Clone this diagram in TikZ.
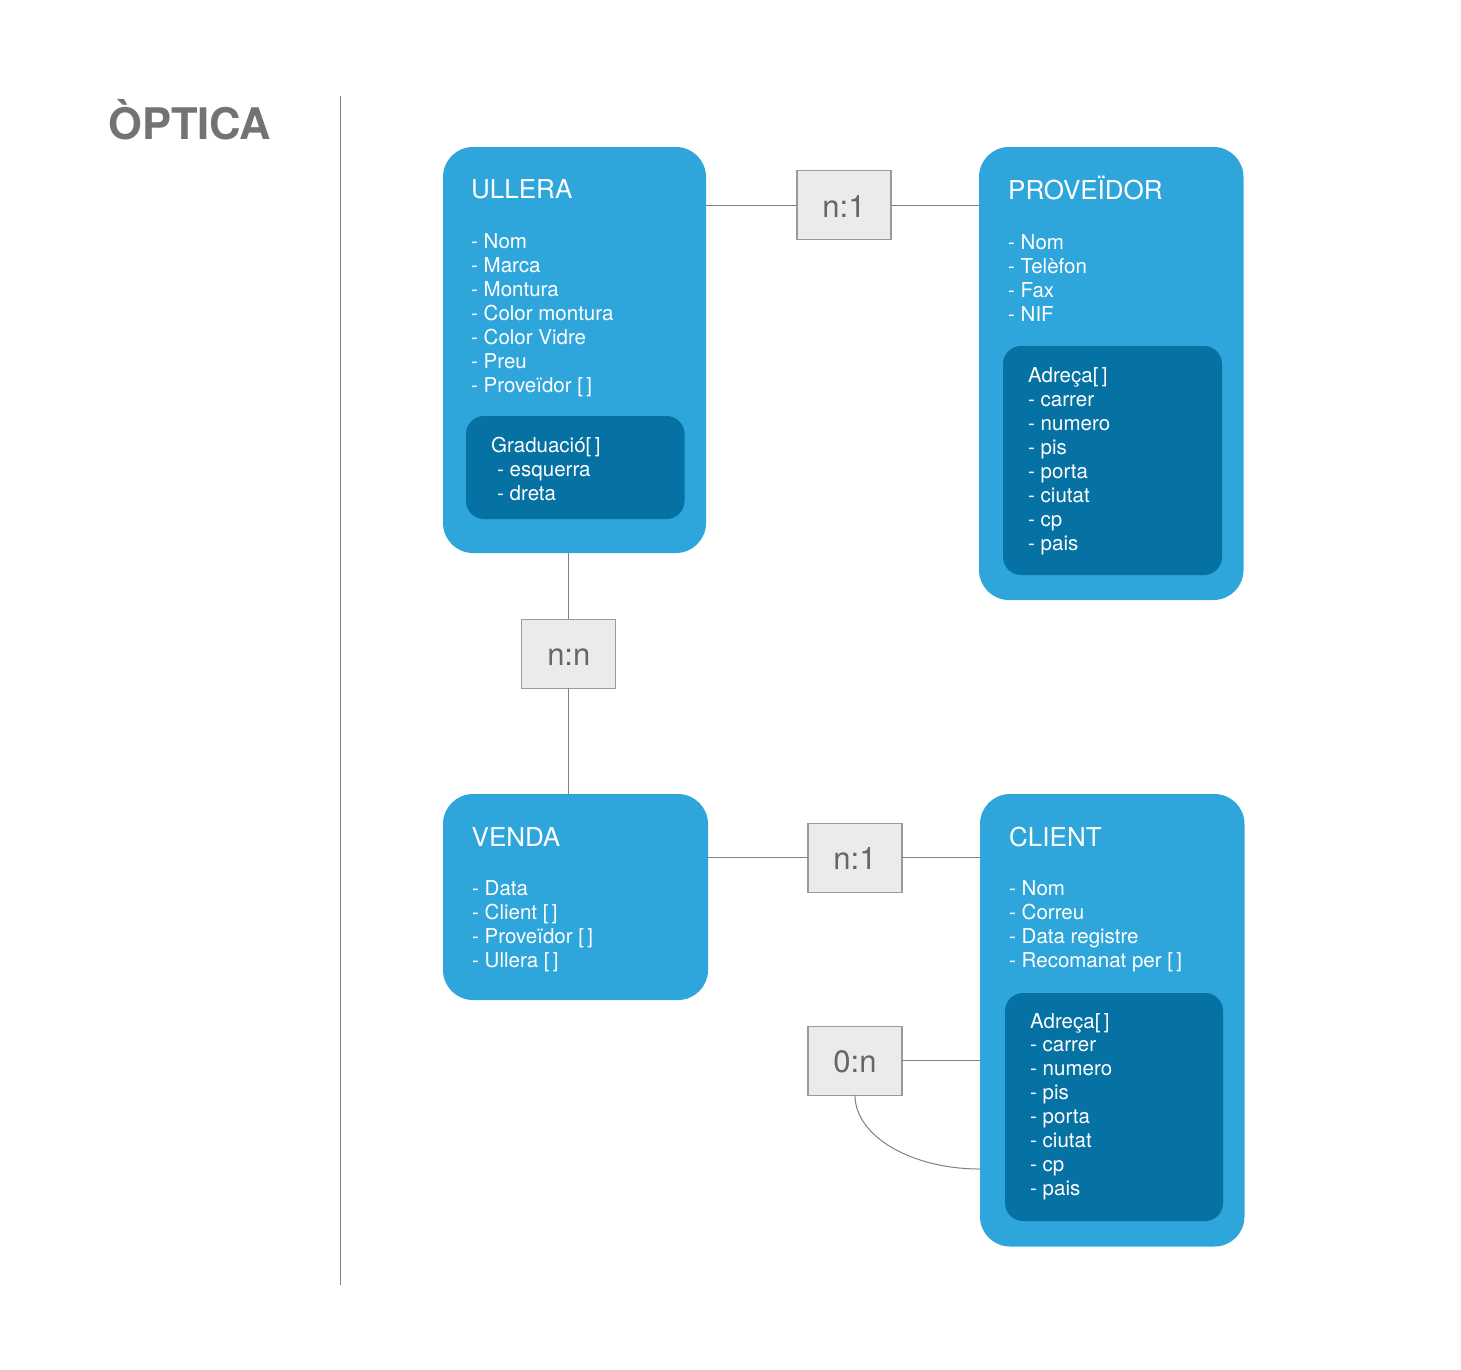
\documentclass[tikz,border=0pt]{standalone}
\usepackage{fontspec}
\setmainfont{TeX Gyre Heros}
\definecolor{outerblue}{HTML}{2EA6DB}
\definecolor{innerblue}{HTML}{0671A3}
\definecolor{relfill}{HTML}{EBEBEB}
\definecolor{relborder}{HTML}{9A9A9A}
\definecolor{reltext}{HTML}{666666}
\definecolor{linegray}{HTML}{808080}
\definecolor{titlegray}{HTML}{737373}
\begin{document}
\begin{tikzpicture}[x=1pt,y=-1pt,
  entity/.style={fill=outerblue, rounded corners=30pt, anchor=north west, inner sep=0pt, outer sep=0pt},
  subbox/.style={fill=innerblue, rounded corners=18pt, anchor=north west, inner sep=0pt, outer sep=0pt},
  rel/.style={draw=relborder, fill=relfill, line width=1.2pt, minimum width=94pt, minimum height=69pt, inner sep=0pt, outer sep=0pt, text=reltext, text height=24pt, text depth=0pt, font=\fontsize{31}{31}\selectfont},
  etitle/.style={anchor=base west, inner sep=0pt, text=white, font=\fontsize{26}{26}\selectfont},
  item/.style={anchor=base west, inner sep=0pt, text=white, font=\fontsize{20.5}{24}\selectfont},
  conn/.style={draw=linegray, line width=1pt},
  divider/.style={draw=linegray, line width=1pt}]
\useasboundingbox (0,0) rectangle (1461,1369);

% title and divider
\node[anchor=base west, inner sep=0pt, text=titlegray, font=\bfseries\fontsize{43.5}{43.5}\selectfont] (title) at (108,139) {ÒPTICA};
\coordinate (divtop) at (340,96);
\coordinate (divbot) at (340,1285);
\draw[divider] (divtop) -- (divbot);

% entity boxes
\node[entity, minimum width=263pt, minimum height=406pt] (ullera) at (443,147) {};
\node[entity, minimum width=264.5pt, minimum height=453pt] (prov) at (979,147) {};
\node[entity, minimum width=265pt, minimum height=206pt] (venda) at (443,794) {};
\node[entity, minimum width=264.5pt, minimum height=452.5pt] (client) at (980,794) {};

% sub boxes
\node[subbox, minimum width=218.5pt, minimum height=103pt] (grad) at (466,416) {};
\node[subbox, minimum width=219pt, minimum height=229pt] (adrp) at (1003,346) {};
\node[subbox, minimum width=218pt, minimum height=228pt] (adrc) at (1005,993) {};

% ULLERA
\node[etitle] (ullt) at (471,198.5) {ULLERA};
\foreach \t [count=\i from 0] in {- Nom, - Marca, - Montura, - Color montura, - Color Vidre, - Preu, - Proveïdor [\,]}
  \node[item, name=ulli\i] at (471,248+24*\i) {\t};
\node[item] (gradt) at (491,452) {Graduació[\,]};
\node[item] (grad1) at (497,476) {- esquerra};
\node[item] (grad2) at (497,500) {- dreta};

% PROVEIDOR
\node[etitle] (provt) at (1008,199.5) {PROVEÏDOR};
\foreach \t [count=\i from 0] in {- Nom, - Telèfon, - Fax, - NIF}
  \node[item, name=provi\i] at (1008,249+24*\i) {\t};
\foreach \t [count=\i from 0] in {Adreça[\,], - carrer, - numero, - pis, - porta, - ciutat, - cp, - pais}
  \node[item, name=adrpi\i] at (1028,382+24*\i) {\t};

% VENDA
\node[etitle] (vendat) at (471.5,846) {VENDA};
\foreach \t [count=\i from 0] in {- Data, - Client [\,], - Proveïdor [\,], - Ullera [\,]}
  \node[item, name=vendai\i] at (472,895+24*\i) {\t};

% CLIENT
\node[etitle] (clientt) at (1009,846) {CLIENT};
\foreach \t [count=\i from 0] in {- Nom, - Correu, - Data registre, - Recomanat per [\,]}
  \node[item, name=clienti\i] at (1009,895+24*\i) {\t};
\foreach \t [count=\i from 0] in {Adreça[\,], - carrer, - numero, - pis, - porta, - ciutat, - cp, - pais}
  \node[item, name=adrci\i] at (1030,1028+23.9*\i) {\t};

% relationship boxes
\node[rel] (relA) at (844,205) {n:1};
\node[rel] (relB) at (568.8,653.8) {n:n};
\node[rel] (relC) at (855,857.7) {n:1};
\node[rel] (relD) at (855,1060.7) {0:n};

% connectors
\draw[conn] (ullera.east |- relA.west) -- (relA.west);
\draw[conn] (relA.east) -- (relA.east -| prov.west);
\draw[conn] (relB.north) -- (relB.north |- ullera.south);
\draw[conn] (relB.south) -- (relB.south |- venda.north);
\draw[conn] (venda.east |- relC.west) -- (relC.west);
\draw[conn] (relC.east) -- (relC.east -| client.west);
\draw[conn] (relD.east) -- (relD.east -| client.west);
\coordinate (recend) at (980,1169);
\draw[conn] (relD.south) .. controls (855,1136) and (911,1169) .. (recend);
\end{tikzpicture}
\end{document}
